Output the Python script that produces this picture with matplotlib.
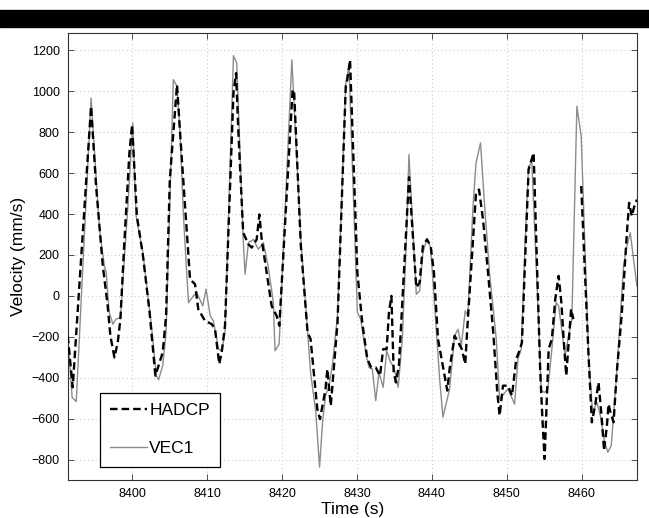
import numpy as np
import matplotlib
matplotlib.use('Agg')
import matplotlib.pyplot as plt
from matplotlib.patches import Rectangle

plt.rcParams['font.family'] = ['Liberation Sans', 'DejaVu Sans']

# HADCP velocity (mm/s), NaN marks the gap in the record
hadcp_t = [8391.37, 8392.03, 8394.48, 8395.15, 8395.6, 8396.04, 8396.7, 8397.06,
           8397.6, 8398.04, 8398.4, 8398.9, 8399.6, 8399.96, 8400.6, 8401.4,
           8402.3, 8403.07, 8403.5, 8404.05, 8404.5, 8405.0, 8405.96, 8406.37,
           8407.7, 8408.37, 8408.8, 8409.7, 8410.6, 8411.04, 8411.6, 8411.93,
           8412.37, 8412.95, 8413.5, 8413.85, 8414.16, 8414.8, 8415.5, 8415.94,
           8416.6, 8416.96, 8417.27, 8417.94, 8418.6, 8419.27, 8419.63, 8421.4,
           8421.6, 8422.5, 8423.4, 8423.8, 8424.7, 8425.06, 8425.8, 8426.04,
           8426.5, 8427.4, 8428.5, 8428.7, 8429.07, 8430.05, 8430.7, 8431.38,
           8431.9, 8432.5, 8433.07, 8433.5, 8433.96, 8434.27, 8434.6, 8434.9,
           8435.2, 8435.6, 8436.95, 8437.92, 8438.37, 8438.8, 8439.35, 8439.84,
           8440.28, 8440.82, 8441.7, 8442.06, 8442.37, 8443.04, 8444.0, 8444.46,
           8444.7, 8445.04, 8445.5, 8445.9, 8446.3, 8446.83, 8447.5, 8448.2,
           8448.74, 8449.05, 8449.5, 8450.16, 8450.7, 8451.27, 8451.7, 8452.03,
           8452.92, 8453.59, 8454.48, 8454.79, 8455.06, 8455.6, 8456.03, 8456.48,
           8456.93, 8457.3, 8457.6, 8457.95, 8458.6, 8458.9, 8459.4, 8459.95,
           8460.93, 8461.37, 8461.8, 8462.26, 8462.7, 8463.0, 8463.38, 8463.6,
           8463.8, 8464.27, 8464.7, 8465.38, 8466.05, 8466.35, 8466.7, 8467.16,
           8467.4]
hadcp_v = [-195, -447, 927, 537, 341, 150, -49, -195,
           -301, -228, -114, 244, 699, 837, 390, 200,
           -81, -390, -341, -276, -98, 569, 1032, 797,
           81, 57, -65, -122, -138, -163, -333, -276,
           -146, 439, 992, 1089, 797, 309, 252, 236,
           276, 398, 276, 114, -49, -98, -146, 1008,
           1000, 244, -179, -211, -553, -602, -455, -358,
           -537, -130, 1024, 1057, 1154, 114, -130, -309,
           -350, -350, -390, -260, -260, -81, 0, -374,
           -423, -341, 580, 41, 65, 244, 276, 244,
           114, -211, -390, -463, -358, -195, -260, -333,
           -179, 16, 276, 504, 520, 374, 114, -179,
           -472, -585, -439, -439, -488, -309, -268, -228,
           618, 699, -374, -618, -797, -260, -211, -16,
           98, -33, -211, -390, -65, -114, np.nan, 537,
           -293, -618, -537, -423, -602, -756, -634, -529,
           -561, -618, -374, -81, 309, 455, 390, 455,
           470]

# VEC1 velocity (mm/s)
vec_t = [8391.37, 8391.95, 8392.5, 8394.48, 8395.6, 8396.26, 8396.5, 8396.9,
         8397.4, 8397.8, 8398.4, 8399.4, 8400.04, 8400.5, 8401.4, 8402.5,
         8403.2, 8403.5, 8404.05, 8404.5, 8405.47, 8405.96, 8406.37, 8406.8,
         8407.2, 8407.5, 8408.15, 8408.6, 8409.4, 8409.84, 8410.4, 8410.82,
         8411.5, 8411.93, 8412.37, 8413.5, 8413.94, 8414.8, 8415.05, 8415.5,
         8416.16, 8416.83, 8417.5, 8418.2, 8418.83, 8419.05, 8419.6, 8421.3,
         8422.5, 8423.8, 8424.5, 8425.0, 8425.4, 8425.8, 8426.26, 8426.7,
         8427.4, 8428.5, 8428.93, 8430.05, 8430.5, 8431.16, 8431.6, 8432.05,
         8432.5, 8432.94, 8433.5, 8433.96, 8434.5, 8434.94, 8435.5, 8436.05,
         8436.6, 8436.94, 8437.92, 8438.37, 8438.8, 8439.35, 8439.84, 8441.04,
         8441.48, 8442.37, 8443.04, 8443.49, 8443.93, 8444.46, 8444.8, 8445.5,
         8445.9, 8446.5, 8447.05, 8447.7, 8448.6, 8449.05, 8450.16, 8451.05,
         8451.5, 8451.94, 8452.3, 8452.47, 8452.92, 8453.36, 8454.26, 8454.6,
         8455.06, 8455.5, 8456.03, 8456.6, 8456.93, 8457.8, 8458.26, 8458.7,
         8459.37, 8459.95, 8460.93, 8461.46, 8462.04, 8462.5, 8463.07, 8463.51,
         8463.96, 8464.7, 8465.6, 8466.05, 8466.5, 8467.38]
vec_v = [-195, -496, -517, 967, 325, 146, 114, -81,
         -138, -114, -106, 439, 845, 390, 211, -130,
         -390, -410, -341, -179, 1057, 1024, 797, 406,
         146, -33, 0, 16, -49, 33, -98, -122,
         -260, -268, -179, 1174, 1138, 276, 106, 260,
         276, 228, 260, 130, -33, -268, -236, 1154,
         276, -374, -569, -837, -618, -488, -439, -341,
         -98, 1041, 1120, -81, -114, -276, -350, -358,
         -512, -374, -447, -268, -325, -350, -447, -211,
         276, 691, 8, 24, 211, 280, 236, -406,
         -593, -455, -195, -163, -244, -73, -98, 439,
         650, 748, 439, 114, -211, -504, -455, -529,
         -309, -260, 98, 276, 634, 650, -130, -463,
         -472, -455, -260, -33, -49, -293, -195, -114,
         927, 780, -293, -569, -520, -585, -715, -764,
         -732, -374, 146, 244, 309, 49]

x_ticks = [8400, 8410, 8420, 8430, 8440, 8450, 8460]
y_ticks = [-800, -600, -400, -200, 0, 200, 400, 600, 800, 1000, 1200]


def main():
    fig = plt.figure(figsize=(6.49, 5.18), dpi=100)
    ax = fig.add_axes([68 / 649, 38 / 518, 569 / 649, 447 / 518])

    ax.plot(hadcp_t, hadcp_v, color='black', lw=1.7,
            linestyle=(0, (3.2, 1.7)), label='HADCP', zorder=3)
    ax.plot(vec_t, vec_v, color='#8c8c8c', lw=1.0, label='VEC1', zorder=2)

    ax.set_xlim(8391.4, 8467.4)
    ax.set_ylim(-900, 1285)
    ax.set_xticks(x_ticks)
    ax.set_yticks(y_ticks)
    ax.tick_params(direction='in', length=4, width=0.6, colors='#333333',
                   labelcolor='black', labelsize=9, top=True, right=True, pad=6)
    for s in ax.spines.values():
        s.set_color('#333333')
        s.set_linewidth(0.8)
    ax.grid(True, color='#c4c4c4', linestyle=(0, (1, 3)), lw=0.7)

    ax.set_xlabel('Time (s)', fontsize=12.5, labelpad=1)
    ax.set_ylabel('Velocity (mm/s)', fontsize=12.5, labelpad=4)

    leg = ax.legend(loc='lower left', bbox_to_anchor=(0.056, 0.030),
                    borderaxespad=0, fontsize=12.5, fancybox=False,
                    edgecolor='black', framealpha=1, handlelength=2.1,
                    handletextpad=0.15, labelspacing=1.3, borderpad=0.6)
    leg.get_frame().set_linewidth(0.9)

    # black banner left over from the page crop
    fig.patches.append(Rectangle((0, (518 - 27) / 518), 1, 17 / 518,
                                 transform=fig.transFigure, color='black'))

    fig.savefig('out.png', dpi=100)


if __name__ == '__main__':
    main()
